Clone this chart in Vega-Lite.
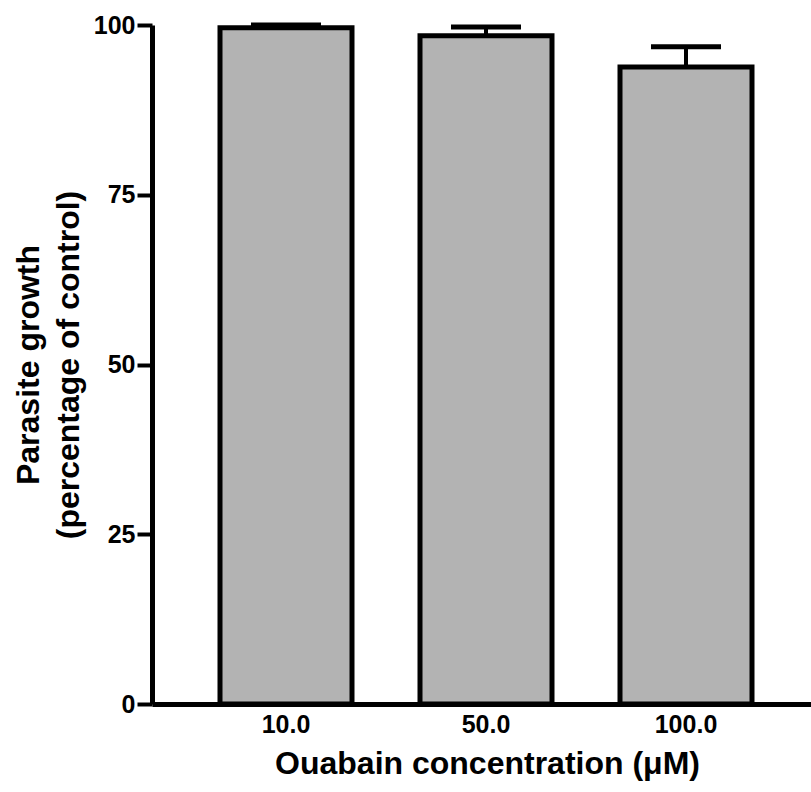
{
  "$schema": "https://vega.github.io/schema/vega-lite/v6.json",
  "width": 668,
  "height": 679,
  "autosize": {"type": "none"},
  "padding": {"left": 152, "top": 25, "right": 0, "bottom": 88},
  "background": "white",
  "config": {
    "view": {"stroke": null},
    "font": "Liberation Sans",
    "axis": {
      "domainColor": "black",
      "domainWidth": 5,
      "tickColor": "black",
      "tickWidth": 4,
      "labelFont": "Liberation Sans",
      "labelFontWeight": "bold",
      "labelFontSize": 25,
      "labelColor": "black",
      "titleFont": "Liberation Sans",
      "titleFontWeight": "bold",
      "titleFontSize": 32,
      "titleColor": "black",
      "grid": false
    }
  },
  "data": {
    "values": [
      {"conc": "10.0", "growth": 99.6, "upper": 100.0},
      {"conc": "50.0", "growth": 98.4, "upper": 99.7},
      {"conc": "100.0", "growth": 93.8, "upper": 96.8}
    ]
  },
  "encoding": {
    "x": {
      "field": "conc",
      "type": "nominal",
      "sort": null,
      "scale": {"paddingInner": 0.34, "paddingOuter": 0.34},
      "axis": {
        "title": "Ouabain concentration (μM)",
        "labelAngle": 0,
        "ticks": false,
        "labelPadding": 8,
        "titleX": 335,
        "titleY": 69,
        "titleBaseline": "alphabetic"
      }
    }
  },
  "layer": [
    {
      "mark": {"type": "rule", "color": "black", "strokeWidth": 4},
      "encoding": {
        "y": {"field": "growth", "type": "quantitative"},
        "y2": {"field": "upper"}
      }
    },
    {
      "mark": {"type": "bar", "fill": "#b3b3b3", "stroke": "black", "strokeWidth": 5},
      "encoding": {
        "y": {
          "field": "growth",
          "type": "quantitative",
          "scale": {"domain": [0, 100], "nice": false},
          "axis": {
            "values": [0, 25, 50, 75, 100],
            "tickSize": 15,
            "labelPadding": 2,
            "title": ["Parasite growth", "(percentage of control)"],
            "titleLineHeight": 40,
            "titlePadding": 8
          }
        }
      }
    },
    {
      "mark": {"type": "tick", "color": "black", "opacity": 1, "size": 70, "thickness": 5},
      "encoding": {
        "y": {"field": "upper", "type": "quantitative"}
      }
    }
  ]
}
